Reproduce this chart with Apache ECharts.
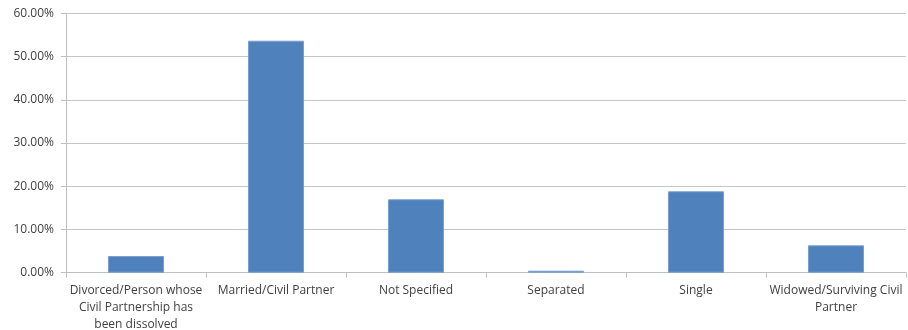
<!DOCTYPE html>
<html>
<head>
<meta charset="utf-8">
<script src="https://cdn.jsdelivr.net/npm/echarts@6/dist/echarts.min.js"></script>
<style>
  html, body { margin: 0; padding: 0; background: #fff; }
  #chart { width: 908px; height: 330px; }
</style>
</head>
<body>
<div id="chart"></div>
<script>
// Marital status shares (percent of total)
const categories = [
  'Divorced/Person whose\nCivil Partnership has\nbeen dissolved',
  'Married/Civil Partner',
  'Not Specified',
  'Separated',
  'Single',
  'Widowed/Surviving Civil\nPartner'
];
const shares = [3.86, 53.66, 16.98, 0.46, 18.83, 6.33];
const yTicks = { min: 0, max: 60, step: 10 };

const textColor = '#404040';
const fontFamily = '"Open Sans", "Noto Sans", sans-serif';

const chart = echarts.init(document.getElementById('chart'), null, { renderer: 'canvas' });
chart.setOption({
  animation: false,
  grid: {
    left: 66, right: 2, top: 13.3, bottom: 57.3,
    containLabel: false,
    outerBoundsMode: 'none'
  },
  xAxis: {
    type: 'category',
    data: categories,
    boundaryGap: true,
    axisLine: { lineStyle: { color: '#bfbfbf', width: 1 } },
    axisTick: { show: true, alignWithLabel: false, length: 5, lineStyle: { color: '#bfbfbf' } },
    axisLabel: {
      interval: 0,
      color: textColor,
      fontFamily: fontFamily,
      fontSize: 12,
      lineHeight: 17,
      margin: 9
    }
  },
  yAxis: {
    type: 'value',
    min: yTicks.min,
    max: yTicks.max,
    interval: yTicks.step,
    axisLine: { show: true, lineStyle: { color: '#bfbfbf', width: 1 } },
    axisTick: { show: true, length: 5, lineStyle: { color: '#bfbfbf' } },
    splitLine: { lineStyle: { color: '#c6c6c6', width: 1 } },
    axisLabel: {
      color: textColor,
      fontFamily: fontFamily,
      fontSize: 12,
      margin: 12,
      formatter: v => v.toFixed(2) + '%'
    }
  },
  series: [{
    type: 'bar',
    data: shares,
    barWidth: '40%',
    itemStyle: { color: '#4f81bd', borderColor: '#7a9fd0', borderWidth: 1 }
  }]
});
</script>
</body>
</html>
